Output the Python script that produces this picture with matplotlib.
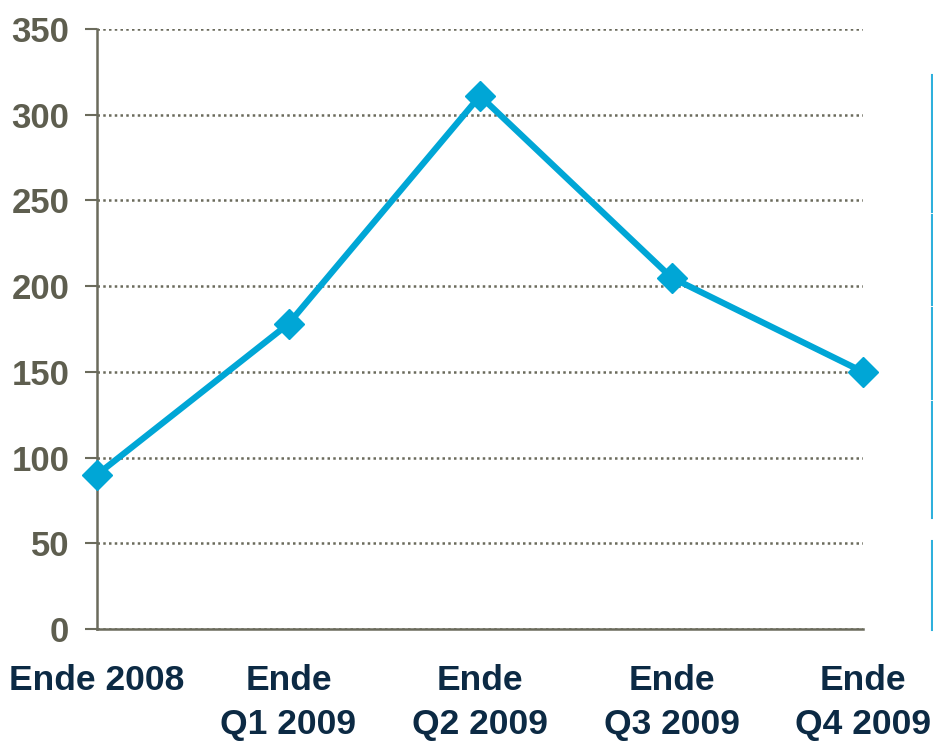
import matplotlib.pyplot as plt
from matplotlib.lines import Line2D

categories = ['Ende 2008', 'Ende\nQ1 2009', 'Ende\nQ2 2009', 'Ende\nQ3 2009', 'Ende\nQ4 2009']
values = [90, 178, 311, 205, 150]
yticks = [0, 50, 100, 150, 200, 250, 300, 350]

plt.rcParams['font.family'] = ['Liberation Sans Narrow', 'Liberation Sans', 'DejaVu Sans']
plt.rcParams['font.weight'] = 'bold'

axis_grey = '#6b6b5c'
line_blue = '#00a6d6'

fig = plt.figure(figsize=(9.33, 7.45), dpi=100)
ax = fig.add_axes([97/933, 116/745, 766/933, 600/745])

x = list(range(len(categories)))
ax.plot(x, values, color=line_blue, lw=4.5, marker='D', markersize=15.5, clip_on=False, zorder=3)

ax.set_xlim(0, 4)
ax.set_ylim(0, 350)
ax.set_yticks(yticks)
ax.set_yticklabels([str(t) for t in yticks], fontsize=25, color='#5e5e4f', fontweight='bold')
ax.set_xticks(x)
ax.set_xticklabels(categories, fontsize=25.5, color='#0c2a44', fontweight='bold', linespacing=1.45)

ax.tick_params(axis='y', direction='out', length=9, width=1.5, color=axis_grey, pad=11)
ax.tick_params(axis='x', length=0, pad=25)

ax.grid(axis='y', linestyle=(0, (1.0, 1.3)), color=axis_grey, lw=1.8)
ax.set_axisbelow(True)

for s in ['top', 'right']:
    ax.spines[s].set_visible(False)
for s in ['left', 'bottom']:
    ax.spines[s].set_color(axis_grey)
    ax.spines[s].set_linewidth(1.8)

# decorative vertical bar at the right edge
for y0, y1 in [(75, 212), (215, 305), (308, 399), (402, 518), (541, 630)]:
    fig.add_artist(Line2D([932/933, 932/933], [1 - y0/745, 1 - y1/745],
                          transform=fig.transFigure, color='#2fb0dc', lw=1.5))

fig.savefig('out.png', dpi=100)
